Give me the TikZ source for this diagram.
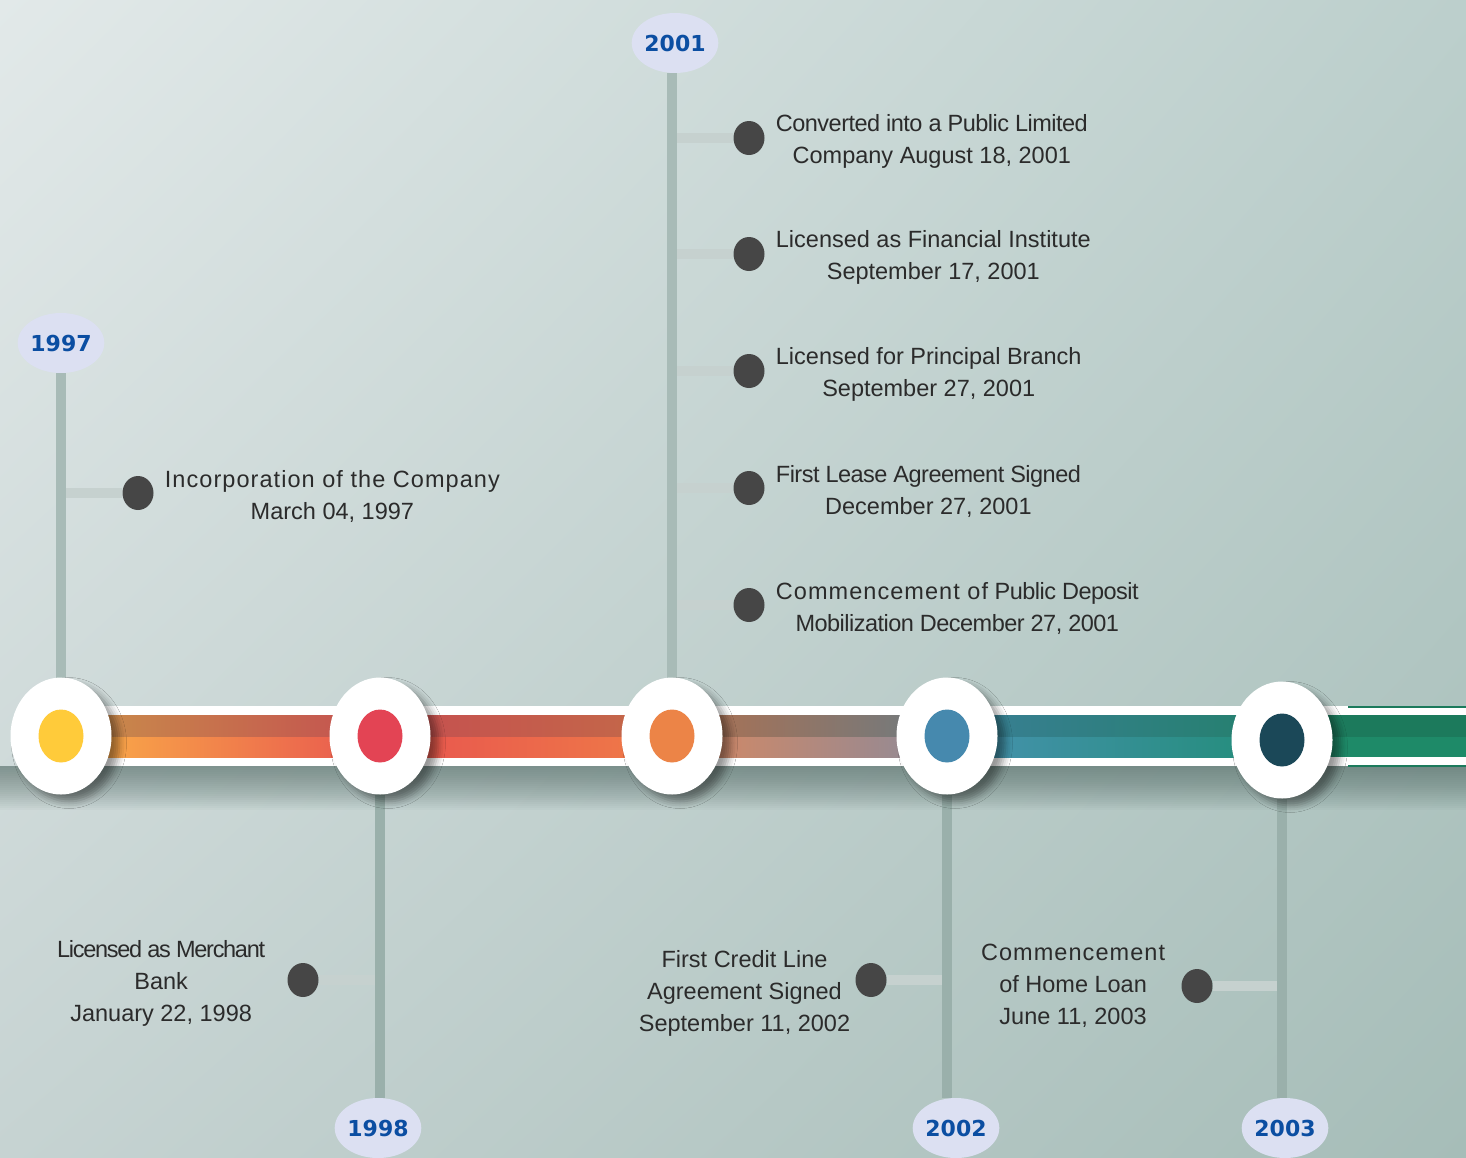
\documentclass[tikz,border=0pt]{standalone}
\usepackage{fontspec}
\setmainfont{Liberation Sans}
\newfontfamily\yearfont{DejaVu Sans}
\newfontfamily\widefont[LetterSpace=4.5]{Liberation Sans}
\newfontfamily\tightfont[LetterSpace=-2.2]{Liberation Sans}
\newfontfamily\tighterfont[LetterSpace=-5.5]{Liberation Sans}
\usetikzlibrary{positioning,shadings,shadows.blur,shapes.geometric}

\definecolor{bgtl}{HTML}{E2E9E9}
\definecolor{bgtr}{HTML}{BCCFCC}
\definecolor{bgbl}{HTML}{C6D3D2}
\definecolor{bgbr}{HTML}{A6BDB8}
\definecolor{bubble}{HTML}{DCE0F2}
\definecolor{yearblue}{HTML}{0B4EA2}
\definecolor{stemgray}{HTML}{A8BBB7}
\definecolor{stemdark}{HTML}{9AB0AB}
\definecolor{bargray}{HTML}{C6D1CF}
\definecolor{dotgray}{HTML}{464646}
\definecolor{ink}{HTML}{2B2B2B}
\definecolor{bandshadow}{HTML}{4E6661}
\definecolor{cyel}{HTML}{FFCB3A}
\definecolor{cred}{HTML}{E34454}
\definecolor{corg}{HTML}{EC8447}
\definecolor{cblu}{HTML}{4689AE}
\definecolor{cdrk}{HTML}{1B4858}
\definecolor{greenup}{HTML}{1C7A5C}
\definecolor{greenlo}{HTML}{1E8A68}

\tikzset{
  yearbub/.style={ellipse, fill=bubble, text=yearblue, inner sep=0pt,
                  minimum width=76pt, minimum height=60pt,
                  font=\yearfont\bfseries\fontsize{22}{24}\selectfont},
  ring/.style={ellipse, fill=white, inner sep=0pt,
               minimum width=101pt, minimum height=117pt,
               blur shadow={shadow xshift=8pt, shadow yshift=-7pt,
                            shadow blur radius=7pt, shadow opacity=40}},
  core/.style={ellipse, inner sep=0pt, minimum width=45pt, minimum height=53pt},
  dot/.style={ellipse, fill=dotgray, inner sep=0pt,
              minimum width=31pt, minimum height=34pt},
  note/.style={text=ink, align=center, inner sep=0pt, yshift=-3pt,
               font=\fontsize{23.5}{32}\selectfont},
  stem/.style={draw=stemgray, line width=10pt},
  bar/.style={draw=bargray, line width=10pt},
}

\begin{document}
\begin{tikzpicture}[x=1pt, y=-1pt]
  \useasboundingbox (0,0) rectangle (1466,1157);
  \shade[upper left=bgtl, upper right=bgtr, lower left=bgbl, lower right=bgbr]
    (0,0) rectangle (1466,1157);

  % milestone centres on the band
  \coordinate (p97) at (61,736);
  \coordinate (p98) at (380,736);
  \coordinate (p01) at (672,736);
  \coordinate (p02) at (947,736);
  \coordinate (p03) at (1282,740);

  % year bubbles
  \node[yearbub] (y97) at (61,343) {1997};
  \node[yearbub] (y01) at (675,43) {2001};
  \node[yearbub] (y98) at (378,1128) {1998};
  \node[yearbub] (y02) at (956,1128) {2002};
  \node[yearbub] (y03) at (1285,1128) {2003};

  % events
  \node[dot] (d97) at (138,493) {};
  \node[note, right=11pt of d97] (t97)
    {{\widefont Incorporation of the Company}\\March 04, 1997};

  \node[dot] (d01a) at (749,138) {};
  \node[dot] (d01b) at (749,254) {};
  \node[dot] (d01c) at (749,371) {};
  \node[dot] (d01d) at (749,488) {};
  \node[dot] (d01e) at (749,605) {};
  \node[note, right=11pt of d01a] (t01a)
    {{\tightfont Converted into a Public Limited}\\Company August 18, 2001};
  \node[note, right=11pt of d01b] (t01b)
    {Licensed as Financial Institute\\September 17, 2001};
  \node[note, right=11pt of d01c] (t01c)
    {Licensed for Principal Branch\\September 27, 2001};
  \node[note, right=11pt of d01d] (t01d)
    {{\tightfont First Lease Agreement Signed}\\December 27, 2001};
  \node[note, right=11pt of d01e] (t01e)
    {{\widefont Commencement of} {\tightfont Public Deposit}\\{\tightfont Mobilization December 27, 2001}};

  \node[dot] (d98) at (303,980) {};
  \node[note, left=22pt of d98] (t98)
    {{\tighterfont Licensed as Merchant}\\Bank\\January 22, 1998};
  \node[dot] (d02) at (871,980) {};
  \node[note, left=5pt of d02, yshift=-10pt] (t02)
    {First Credit Line\\Agreement Signed\\September 11, 2002};
  \node[dot] (d03) at (1197,986) {};
  \node[note, left=16pt of d03, yshift=3pt] (t03)
    {{\widefont Commencement}\\of Home Loan\\June 11, 2003};

  % connector bars, then stems
  \foreach \d in {d01a,d01b,d01c,d01d,d01e}
    \draw[bar] (p01 |- \d) -- (\d);
  \draw[bar] (p97 |- d97) -- (d97);
  \draw[bar] (p98 |- d98) -- (d98);
  \draw[bar] (p02 |- d02) -- (d02);
  \draw[bar] (p03 |- d03) -- (d03);

  \draw[stem] (y97) -- (p97);
  \draw[stem] (y01.south -| p01) -- (p01);
  \draw[stem, draw=stemdark] (p98) -- (p98 |- y98.north);
  \draw[stem, draw=stemdark] (p02) -- (p02 |- y02.north);
  \draw[stem, draw=stemdark] (p03) -- (p03 |- y03.north);

  % the band, its shadow first
  \foreach \i in {1,...,22}
    \fill[bandshadow, opacity=0.035] (0,766) rectangle (1466,766+2*\i);
  \fill[white] (p97 |- 0,706) rectangle (1466,766);
  \foreach \a/\b/\ua/\ub/\la/\lb in {
      p97/p98/C9914A/C44F50/FBB247/E8554F,
      p98/p01/C54E50/C46A48/E8534F/EF7C47,
      p01/p02/B0704F/6C7B82/D98860/8C8A9A,
      p02/p03/3A7F96/24806C/4792B0/228D78}{
    \definecolor{ua}{HTML}{\ua}\definecolor{ub}{HTML}{\ub}
    \definecolor{la}{HTML}{\la}\definecolor{lb}{HTML}{\lb}
    \shade[left color=ua, right color=ub] (\a |- 0,715) rectangle (\b |- 0,737);
    \shade[left color=la, right color=lb] (\a |- 0,737) rectangle (\b |- 0,757);
  }
  \fill[greenup] (p03 |- 0,715) rectangle (1466,737);
  \fill[greenlo] (p03 |- 0,737) rectangle (1466,757);
  \fill[greenup] (1348,705.5) rectangle (1466,707.5);
  \fill[greenup] (1348,765) rectangle (1466,767);

  % milestone rings
  \node[ring] (c97) at (p97) {};
  \node[ring] (c98) at (p98) {};
  \node[ring] (c01) at (p01) {};
  \node[ring] (c02) at (p02) {};
  \node[ring] (c03) at (p03) {};
  \node[core, fill=cyel] at (c97) {};
  \node[core, fill=cred] at (c98) {};
  \node[core, fill=corg] at (c01) {};
  \node[core, fill=cblu] at (c02) {};
  \node[core, fill=cdrk] at (c03) {};
\end{tikzpicture}
\end{document}
